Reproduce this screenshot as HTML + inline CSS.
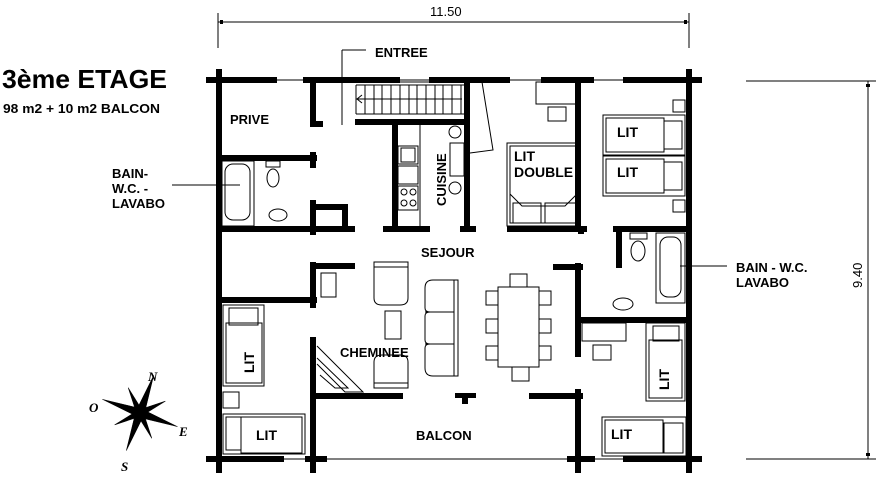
<!DOCTYPE html>
<html><head><meta charset="utf-8"><style>
html,body{margin:0;padding:0;background:#fff;}
svg{display:block;}
text{font-family:"Liberation Sans",Arial,sans-serif;font-weight:bold;fill:#000;}
</style></head><body>
<svg width="882" height="493" viewBox="0 0 882 493" xmlns="http://www.w3.org/2000/svg">
<g stroke="#000" stroke-width="1" fill="none">
<line x1="218" y1="22" x2="689" y2="22"/>
<line x1="218" y1="13" x2="218" y2="48"/>
<line x1="689" y1="13" x2="689" y2="48"/>
<line x1="868" y1="81" x2="868" y2="459"/>
<line x1="746" y1="81" x2="876" y2="81"/>
<line x1="746" y1="459" x2="876" y2="459"/>
<line x1="342" y1="50" x2="366" y2="50"/>
<line x1="342" y1="50" x2="342" y2="125"/>
<line x1="172" y1="185" x2="240" y2="185"/>
<line x1="680" y1="266" x2="727" y2="266"/>
<line x1="277" y1="80" x2="303" y2="80"/>
<line x1="400" y1="80" x2="429" y2="80"/>
<line x1="400" y1="82" x2="429" y2="82"/>
<line x1="510" y1="80" x2="541" y2="80"/>
<line x1="594" y1="80" x2="623" y2="80"/>
<line x1="284" y1="459" x2="305" y2="459"/>
<line x1="327" y1="459" x2="567" y2="459"/>
<line x1="595" y1="459" x2="623" y2="459"/>
</g>
<rect x="220" y="20" width="3" height="4"/><rect x="684" y="20" width="3" height="4"/>
<rect x="866" y="84" width="4" height="3"/><rect x="866" y="453" width="4" height="3"/>
<text x="430" y="16" font-size="13" style="font-weight:normal">11.50</text>
<text x="0" y="0" font-size="13" style="font-weight:normal" transform="translate(862,288) rotate(-90)">9.40</text>

<g fill="#000">
<rect x="206" y="77" width="71" height="6"/>
<rect x="303" y="77" width="97" height="6"/>
<rect x="429" y="77" width="81" height="6"/>
<rect x="541" y="77" width="53" height="6"/>
<rect x="623" y="77" width="79" height="6"/>
<rect x="206" y="456" width="78" height="6"/>
<rect x="305" y="456" width="22" height="6"/>
<rect x="567" y="456" width="28" height="6"/>
<rect x="623" y="456" width="79" height="6"/>
<rect x="216" y="69" width="6" height="404"/>
<rect x="686" y="69" width="6" height="404"/>
<rect x="310" y="80" width="6" height="46"/>
<rect x="310" y="121" width="13" height="6"/>
<rect x="219" y="155" width="98" height="6"/>
<rect x="310" y="152" width="6" height="16"/>
<rect x="310" y="200" width="6" height="35"/>
<rect x="310" y="204" width="36" height="6"/>
<rect x="342" y="204" width="6" height="25"/>
<rect x="219" y="226" width="136" height="6"/>
<rect x="383" y="226" width="47" height="6"/>
<rect x="460" y="226" width="16" height="6"/>
<rect x="355" y="119" width="112" height="6"/>
<rect x="392" y="122" width="6" height="108"/>
<rect x="464" y="80" width="6" height="150"/>
<rect x="507" y="226" width="80" height="6"/>
<rect x="575" y="80" width="6" height="152"/>
<rect x="578" y="226" width="6" height="8"/>
<rect x="613" y="226" width="76" height="6"/>
<rect x="616" y="228" width="6" height="40"/>
<rect x="553" y="264" width="30" height="6"/>
<rect x="575" y="263" width="6" height="94"/>
<rect x="578" y="317" width="111" height="6"/>
<rect x="529" y="393" width="54" height="6"/>
<rect x="575" y="389" width="6" height="84"/>
<rect x="310" y="262" width="6" height="46"/>
<rect x="310" y="263" width="45" height="6"/>
<rect x="219" y="297" width="98" height="6"/>
<rect x="310" y="337" width="6" height="136"/>
<rect x="310" y="393" width="93" height="6"/>
<rect x="455" y="393" width="21" height="5"/>
<rect x="462" y="396" width="6" height="8"/>
</g>

<g stroke="#000" stroke-width="1" fill="none">
<line x1="356" y1="85" x2="465" y2="85"/>
<line x1="356" y1="114" x2="465" y2="114"/>
<line x1="356" y1="99" x2="462" y2="99"/>
<path d="M356 85 V114 M365 85 V114 M374 85 V114 M382 85 V114 M391 85 V114 M400 85 V114 M409 85 V114 M417 85 V114 M426 85 V114 M435 85 V114 M443 85 V114 M452 85 V114 M461 85 V114"/>
<path d="M362 95 L357 99 L362 103"/>
<line x1="420" y1="125" x2="420" y2="228"/>
<rect x="398" y="146" width="20" height="18"/>
<rect x="401" y="148" width="14" height="14"/>
<rect x="398" y="166" width="20" height="18"/>
<rect x="398" y="186" width="20" height="24"/>
<circle cx="404" cy="192" r="3"/><circle cx="413" cy="192" r="3"/><circle cx="404" cy="203" r="3"/><circle cx="413" cy="203" r="3"/>
<circle cx="455" cy="132" r="6"/><circle cx="455" cy="188" r="6"/>
<rect x="450" y="143" width="14" height="33"/>
<path d="M470 82 L482 82 L493 150 L470 153"/>
<rect x="222" y="161" width="32" height="65"/>
<rect x="225" y="164" width="25" height="56" rx="8"/>
<rect x="266" y="161" width="14" height="6"/>
<ellipse cx="273" cy="178" rx="6" ry="9"/>
<ellipse cx="278" cy="215" rx="9" ry="6"/>
<rect x="507" y="143" width="69" height="83"/>
<rect x="510" y="146" width="66" height="77"/>
<path d="M510 194 L522 206 L565 206 L577 194"/>
<rect x="513" y="203" width="28" height="20"/>
<rect x="545" y="203" width="31" height="20"/>
<rect x="536" y="82" width="40" height="22"/>
<rect x="548" y="107" width="18" height="14"/>
<rect x="603" y="115" width="82" height="40"/>
<rect x="606" y="118" width="58" height="34"/>
<rect x="664" y="121" width="18" height="28"/>
<rect x="603" y="156" width="82" height="40"/>
<rect x="606" y="159" width="58" height="34"/>
<rect x="664" y="162" width="18" height="28"/>
<rect x="673" y="100" width="12" height="12"/>
<rect x="673" y="200" width="12" height="12"/>
<rect x="656" y="233" width="29" height="70"/>
<rect x="660" y="237" width="21" height="60" rx="8"/>
<rect x="630" y="233" width="17" height="6"/>
<ellipse cx="638" cy="251" rx="7" ry="10"/>
<ellipse cx="623" cy="304" rx="10" ry="6"/>
<rect x="582" y="323" width="44" height="18"/>
<rect x="593" y="345" width="18" height="15"/>
<rect x="646" y="323" width="39" height="78"/>
<rect x="649" y="340" width="33" height="58"/>
<rect x="653" y="326" width="26" height="15"/>
<rect x="602" y="417" width="84" height="39"/>
<rect x="605" y="420" width="58" height="33"/>
<rect x="664" y="423" width="19" height="30"/>
<rect x="223" y="305" width="41" height="81"/>
<rect x="226" y="323" width="36" height="60"/>
<rect x="229" y="308" width="29" height="17"/>
<rect x="223" y="392" width="16" height="16"/>
<rect x="223" y="414" width="82" height="40"/>
<rect x="226" y="417" width="15" height="33"/>
<rect x="241" y="417" width="61" height="36"/>
<rect x="321" y="273" width="15" height="24"/>
<rect x="374" y="262" width="34" height="5"/>
<path d="M374 267 V298 Q374 305 382 305 H400 Q408 305 408 298 V267"/>
<rect x="374" y="383" width="34" height="5"/>
<path d="M374 383 V362 Q374 355 382 355 H400 Q408 355 408 362 V383"/>
<rect x="385" y="311" width="16" height="28"/>
<path d="M433 280 H454 V376 H433 Q425 376 425 368 V348 Q425 344 430 344 Q425 344 425 340 V316 Q425 312 430 312 Q425 312 425 308 V288 Q425 280 433 280 Z"/>
<line x1="425" y1="312" x2="454" y2="312"/><line x1="425" y1="344" x2="454" y2="344"/>
<rect x="454" y="280" width="4" height="96"/>
<rect x="498" y="287" width="41" height="80"/>
<path d="M498 291 H486 V305 H498 M498 319 H486 V333 H498 M498 346 H486 V360 H498"/>
<path d="M539 291 H551 V305 H539 M539 319 H551 V333 H539 M539 346 H551 V360 H539"/>
<path d="M510 287 V274 H527 V287 M512 367 V381 H529 V367"/>
<path d="M317 346 L363 392 L345 392 L317 364"/>
<path d="M317 358 L348 388 L335 388 L320 375"/>
</g>

<g transform="translate(140,413)" fill="#000" stroke="#000" stroke-width="0.5">
<polygon points="0,-40 4,-4 0,0 -4,-4" transform="rotate(20)"/>
<polygon points="0,-40 4,-4 0,0 -4,-4" transform="rotate(110)"/>
<polygon points="0,-40 4,-4 0,0 -4,-4" transform="rotate(200)"/>
<polygon points="0,-40 4,-4 0,0 -4,-4" transform="rotate(290)"/>
<polygon points="0,-28 3,-3 0,0 -3,-3" transform="rotate(65)"/>
<polygon points="0,-28 3,-3 0,0 -3,-3" transform="rotate(155)"/>
<polygon points="0,-28 3,-3 0,0 -3,-3" transform="rotate(245)"/>
<polygon points="0,-28 3,-3 0,0 -3,-3" transform="rotate(335)"/>
</g>
<text x="148" y="381" font-size="13" style="font-family:'Liberation Serif',serif;font-style:italic">N</text>
<text x="89" y="412" font-size="13" style="font-family:'Liberation Serif',serif;font-style:italic">O</text>
<text x="179" y="436" font-size="13" style="font-family:'Liberation Serif',serif;font-style:italic">E</text>
<text x="121" y="471" font-size="13" style="font-family:'Liberation Serif',serif;font-style:italic">S</text>

<text x="2" y="88" font-size="26" textLength="165" lengthAdjust="spacingAndGlyphs">3ème ETAGE</text>
<text x="3" y="113" font-size="13" textLength="157" lengthAdjust="spacingAndGlyphs">98 m2 + 10 m2 BALCON</text>
<text x="112" y="178" font-size="13">BAIN-</text>
<text x="112" y="193" font-size="13">W.C. -</text>
<text x="112" y="208" font-size="13">LAVABO</text>
<text x="375" y="57" font-size="13">ENTREE</text>
<text x="230" y="124" font-size="13">PRIVE</text>
<text x="0" y="0" font-size="13" transform="translate(446,206) rotate(-90)">CUISINE</text>
<text x="514" y="161" font-size="14">LIT</text>
<text x="514" y="177" font-size="14">DOUBLE</text>
<text x="617" y="137" font-size="14">LIT</text>
<text x="617" y="177" font-size="14">LIT</text>
<text x="421" y="257" font-size="13">SEJOUR</text>
<text x="736" y="272" font-size="13">BAIN - W.C.</text>
<text x="736" y="287" font-size="13">LAVABO</text>
<text x="340" y="357" font-size="13">CHEMINEE</text>
<text x="0" y="0" font-size="14" transform="translate(254,373) rotate(-90)">LIT</text>
<text x="0" y="0" font-size="14" transform="translate(669,390) rotate(-90)">LIT</text>
<text x="256" y="440" font-size="14">LIT</text>
<text x="611" y="439" font-size="14">LIT</text>
<text x="416" y="440" font-size="13">BALCON</text>
</svg>
</body></html>
